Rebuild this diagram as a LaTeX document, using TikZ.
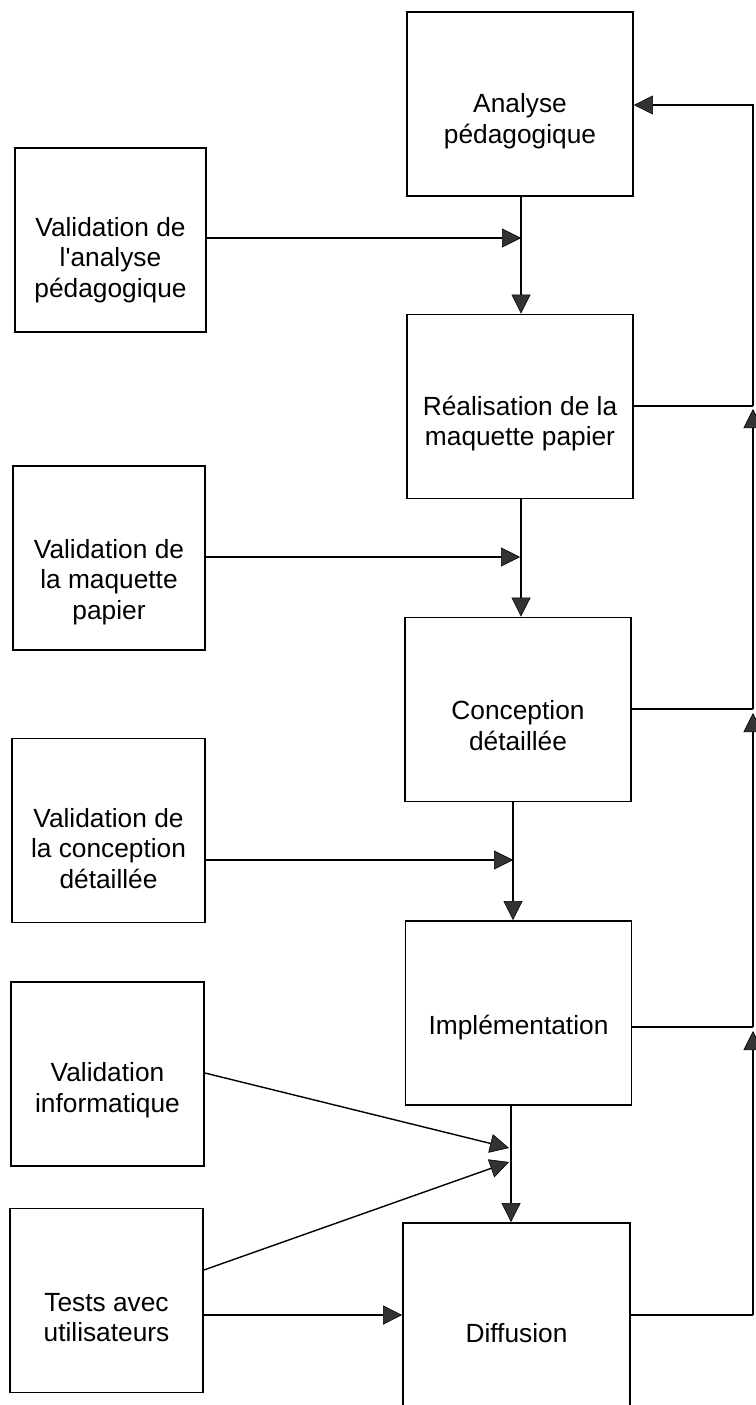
\documentclass[tikz,border=0pt]{standalone}
\usepackage{fontspec}
\setmainfont{Liberation Sans}[Ligatures=TeXOff]
\usetikzlibrary{arrows.meta}
\tikzset{
  box/.style={draw=black, line width=1.8pt, rectangle, minimum width=#1, minimum height=184pt, inner sep=0pt},
  box/.default=226pt,
  txt/.style={align=center, font=\fontsize{26.3pt}{30.5pt}\selectfont, inner sep=0pt},
  conn/.style={draw=black, line width=1.4pt, -{Triangle[length=19pt,width=19pt,color=black,fill=black!80,line width=0.6pt]}},
  plain/.style={draw=black, line width=1.4pt}
}
\begin{document}
\begin{tikzpicture}[x=1pt,y=-1pt]
\useasboundingbox (0,0) rectangle (755,1405);
\fill[white] (0,0) rectangle (755,1405);
% main column
\node[box] (A) at (520,104) {};
\node[txt] (tA) at ([yshift=-17pt]A.center) {Analyse\\pédagogique};
\node[box] (R) at (520,406.5) {};
\node[txt] (tR) at ([yshift=-17pt]R.center) {Réalisation de la\\maquette papier};
\node[box] (C) at (518,709.5) {};
\node[txt] (tC) at ([yshift=-16pt]C.center) {Conception\\détaillée};
\node[box] (I) at (518.5,1013) {};
\node[txt] (tI) at ([yshift=-15pt]I.center) {Implémentation};
\node[box=227pt] (D) at (516.5,1315) {};
\node[txt] (tD) at ([yshift=-18pt]D.center) {Diffusion};
% left column
\node[box=191pt] (VA) at (110.5,240) {};
\node[txt] (tVA) at ([yshift=-20pt]VA.center) {Validation de\\l'analyse\\pédagogique};
\node[box=192pt] (VM) at (109,558) {};
\node[txt] (tVM) at ([yshift=-24pt]VM.center) {Validation de\\la maquette\\papier};
\node[box=193pt] (VC) at (108.5,830.5) {};
\node[txt] (tVC) at ([yshift=-18pt]VC.center) {Validation de\\la conception\\détaillée};
\node[box=193pt] (VI) at (107.5,1074) {};
\node[txt] (tVI) at ([yshift=-16pt]VI.center) {Validation\\informatique};
\node[box=193pt] (T) at (106.5,1300.5) {};
\node[txt] (tT) at ([yshift=-17pt]T.center) {Tests avec\\utilisateurs};
% junction coordinates
\coordinate (jA) at (521,238);
\coordinate (jR) at (520,557);
\coordinate (jC) at (513,860);
\coordinate (jD) at (511,0);
\coordinate (jI1) at (509,1148);
\coordinate (jI2) at (509,1162);
\coordinate (sVI) at (0,1073);
\coordinate (sT) at (0,1270);
\coordinate (fR) at (753,406);
\coordinate (fC) at (753,709);
\coordinate (fI) at (753,1027);
\coordinate (fD) at (753,1315);
\coordinate (fA) at (753,105);
% vertical flow
\draw[conn] (A.south -| jA) -- (R.north -| jA);
\draw[conn] (R.south -| jA) -- (C.north -| jA);
\draw[conn] (C.south -| jC) -- (I.north -| jC);
\draw[conn] (I.south -| jD) -- (D.north -| jD);
% validations
\draw[conn] (VA.east |- jA) -- (jA);
\draw[conn] (VM.east |- jR) -- (jR);
\draw[conn] (VC.east |- jC) -- (jC);
\draw[conn] (VI.east |- sVI) -- (jI1);
\draw[conn] (T.east |- sT) -- (jI2);
\draw[conn] (T.east |- fD) -- (D.west |- fD);
% feedback
\draw[plain] (D.east |- fD) -- (fD);
\draw[plain] (I.east |- fI) -- (fI);
\draw[plain] (C.east |- fC) -- (fC);
\draw[plain] (R.east |- fR) -- (fR);
\draw[conn] (fD) -- ([yshift=-4pt]fI);
\draw[conn] (fI) -- ([yshift=-4pt]fC);
\draw[conn] (fC) -- ([yshift=-3pt]fR);
\draw[conn] (fR) -- (fA) -- (A.east |- fA);
\end{tikzpicture}
\end{document}
